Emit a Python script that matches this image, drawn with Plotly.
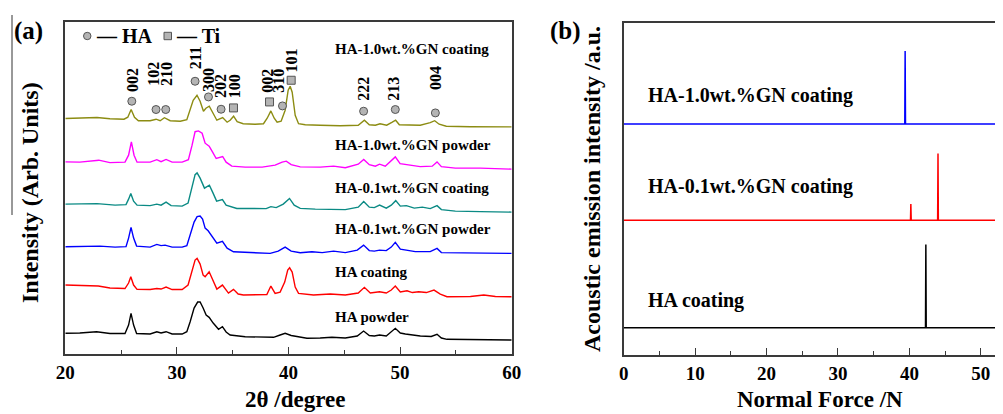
import plotly.graph_objects as go

# The page body adds an 8 px margin, so the figure is 8 px smaller on each axis
OFF = 8
W, H = 1003 - OFF, 414 - OFF
FONT = "Liberation Serif, Times New Roman, serif"

# ---------------- Panel (a): XRD patterns ----------------
theta_olive = [20.0, 21.77, 22.84, 24.0, 25.26, 25.6, 25.9, 26.2, 26.55, 27.6, 28.13, 28.5, 28.88, 29.4, 30.3, 30.89,
               31.2, 31.46, 31.8, 32.08, 32.38, 32.6, 32.9, 33.16, 33.58, 34.1, 34.5, 34.77, 35.08, 35.4, 35.94, 37.0,
               37.76, 38.09, 38.42, 38.72, 38.98, 39.34, 39.7, 39.97, 40.15, 40.33, 40.6, 40.9, 41.5, 42.84, 44.64,
               46.25, 46.8, 47.24, 47.78, 48.2, 48.8, 49.3, 49.6, 49.93, 50.9, 51.8, 52.7, 53.1, 53.5, 54.14, 56.3,
               58.1, 60.0]
int_olive = [235.7, 236.5, 236.7, 235.5, 235, 237, 244.7, 237, 233.5, 233.5, 235, 233.5, 236.5, 233.5, 233, 234.5,
             244, 254, 259, 253, 243, 246, 248, 242, 234, 236.7, 232, 234, 238, 232.5, 230.5, 230,
             230.5, 236, 243.3, 236, 232, 233, 244, 264, 268, 262, 239, 230.5, 229.5, 229, 228.5,
             229, 234, 229.5, 229, 230.5, 229, 232, 234, 229.5, 229, 229, 231.5, 233.5, 230, 228, 227.5,
             227.5, 227.3]

theta_magenta = [20.0, 21.3, 23.0, 24.0, 25.35, 25.67, 25.92, 26.16, 26.43, 27.6, 28.2, 28.58, 29.03, 29.57, 30.47,
                 31.03, 31.36, 31.63, 31.93, 32.26, 32.53, 32.89, 33.2, 33.52, 34.1, 34.41, 34.92, 36.12, 37.64,
                 38.8, 39.43, 39.8, 40.24, 41.05, 42.84, 44.04, 45.09, 46.25, 46.74, 47.24, 47.78, 48.16, 48.67,
                 49.21, 49.57, 50.0, 50.9, 51.8, 52.88, 53.31, 53.7, 54.95, 57.2, 60.0]
int_magenta = [192.3, 192, 194, 191.5, 192, 199, 212.3, 199, 192, 192, 194.5, 192.5, 194.7, 192, 192,
               194.5, 209, 222.5, 223.3, 221, 211, 208, 202, 195.7, 197.7, 192, 188, 187, 187,
               189, 192, 193, 189.5, 187.3, 187, 188, 186.5, 190, 194.7, 189.5, 188, 190, 188,
               193, 197.3, 190.5, 189, 187.5, 188, 192.3, 187.5, 186, 186, 185]

theta_teal = [20.0, 21.3, 22.84, 24.46, 25.44, 25.67, 25.87, 26.12, 26.43, 27.6, 28.2, 28.58, 29.03, 29.48, 30.47,
              31.0, 31.36, 31.63, 31.81, 32.08, 32.47, 32.67, 32.91, 33.2, 33.56, 34.08, 34.41, 35.37, 37.01,
              38.0, 38.42, 38.9, 39.53, 40.09, 40.51, 41.05, 42.4, 43.74, 45.09, 46.25, 46.74, 47.24, 47.69,
              48.16, 48.76, 49.21, 49.61, 50.02, 50.56, 51.27, 51.99, 52.7, 53.31, 53.7, 54.95, 57.2, 60.0]
int_teal = [150, 150, 150.5, 149, 149.5, 155, 160.7, 153, 149, 148.5, 150, 149, 152, 148.5, 148,
            151, 166, 179.5, 181.3, 176, 166, 167, 169, 162, 153, 154.5, 149, 145.7, 145.7,
            145.5, 147.5, 146.5, 150, 155.7, 149, 145.7, 145, 145, 144.5, 147, 152.7, 147, 146.5,
            149, 146, 149, 153.5, 148, 148.5, 146, 147, 145.5, 148.5, 144.5, 143, 142.5, 142]

theta_blue = [20.0, 21.3, 23.1, 24.46, 25.44, 25.67, 25.89, 26.12, 26.39, 27.6, 28.2, 28.58, 28.94, 29.57, 30.47,
              30.89, 31.18, 31.54, 31.81, 32.08, 32.3, 32.53, 32.8, 33.16, 33.58, 34.08, 34.5, 35.07, 36.56,
              38.36, 39.08, 39.7, 40.24, 41.05, 42.1, 43.02, 44.04, 45.09, 46.16, 46.73, 47.24, 47.69, 48.16,
              48.76, 49.21, 49.57, 50.02, 50.47, 51.36, 52.7, 53.31, 53.7, 55.4, 57.65, 60.0]
int_blue = [107.3, 107.5, 108, 107, 107.5, 116, 126.7, 116, 108, 107, 109.7, 108.5, 109, 107, 107,
            108.5, 118, 132, 137.5, 138, 135, 126, 123.3, 118, 111, 112.7, 106, 102.3, 101.5,
            100.7, 103, 107, 103, 101.3, 102.3, 101.5, 103, 101.5, 104, 109, 103.5, 103, 104,
            103.5, 107, 111.7, 105, 104, 102.5, 102.5, 105.7, 101.5, 101, 101, 100.7]

theta_red = [20.0, 21.3, 22.96, 24.0, 25.35, 25.67, 25.87, 26.12, 26.43, 27.6, 28.2, 28.58, 29.03, 29.57, 30.47,
             31.0, 31.36, 31.63, 31.81, 32.08, 32.35, 32.53, 32.89, 33.2, 33.58, 34.08, 34.62, 35.07, 35.49,
             35.96, 37.01, 38.06, 38.42, 38.8, 39.25, 39.66, 39.93, 40.1, 40.33, 40.6, 40.9, 42.24, 43.74,
             45.09, 46.25, 46.8, 47.33, 48.16, 48.76, 49.21, 49.57, 50.02, 50.62, 51.1, 51.67, 52.35, 53.04,
             53.6, 54.2, 56.3, 57.5, 58.54, 60.0]
int_red = [69, 68.5, 68, 66, 65.5, 71, 77.3, 69, 64.7, 64.5, 65.5, 65, 67, 64.5, 64.5,
           69, 84, 94, 95.7, 90, 79, 77.3, 82.3, 74, 65, 69, 61, 64.7, 60,
           59, 59, 59.5, 68, 60.7, 62, 72, 84, 86.3, 82, 67, 60.7, 59, 60,
           59, 61, 66.7, 61, 62.3, 61, 64, 68, 62, 63.3, 61.5, 62.3, 61.5, 64,
           60, 57.3, 57.5, 59, 57.5, 57.3]

theta_black = [20.0, 21.3, 22.8, 24.0, 25.35, 25.67, 25.89, 26.12, 26.39, 27.6, 28.2, 28.58, 29.03, 29.57, 30.47,
               30.89, 31.18, 31.54, 31.86, 32.08, 32.35, 32.62, 32.89, 33.25, 33.73, 34.08, 34.41, 34.77, 36.12,
               37.46, 38.66, 39.25, 39.7, 40.24, 41.65, 42.84, 43.89, 45.09, 46.16, 46.73, 47.24, 47.69, 48.16,
               48.76, 49.21, 49.57, 50.02, 50.47, 51.81, 52.79, 53.31, 53.7, 54.2, 56.3, 58.1, 60.0]
int_black = [20.7, 21, 22.3, 20.5, 20.5, 29, 40.7, 29, 20.5, 20, 22.3, 21, 22.3, 20, 20,
             22.3, 32, 46, 52, 52, 46, 39, 36.7, 31, 24.7, 27.3, 22, 19, 17.3,
             17, 16.7, 19, 20.7, 18.5, 15.7, 16, 16.7, 16, 18, 23, 18.5, 18, 19,
             18, 22, 25.7, 21, 20, 18, 17.5, 19.7, 16, 14.7, 14.5, 14.5, 14]

xrd_series = [
    ("HA-1.0wt.%GN coating", theta_olive, int_olive, "#8c8c12"),
    ("HA-1.0wt.%GN powder", theta_magenta, int_magenta, "#ff00ff"),
    ("HA-0.1wt.%GN coating", theta_teal, int_teal, "#0a8a84"),
    ("HA-0.1wt.%GN powder", theta_blue, int_blue, "#0000ff"),
    ("HA coating", theta_red, int_red, "#ff0000"),
    ("HA powder", theta_black, int_black, "#000000"),
]
# label positions (y of label centre, in pattern intensity units)
xrd_label_y = [305, 209, 166, 125, 82, 37]

# peak indexing
ha_peak_theta = [25.96, 28.13, 29.0, 31.63, 32.83, 33.96, 39.46, 46.73, 49.57, 53.16]
ha_marker_y = [253, 244.7, 244.7, 273, 257.3, 245, 248.3, 243, 244.7, 241.3]
ti_peak_theta = [35.07, 38.3, 40.24]
ti_marker_y = [246.3, 252.3, 274]

hkl_text = ["002", "102", "210", "211", "300", "202", "100", "002", "310", "101", "222", "213", "004"]
hkl_theta = [25.96, 27.95, 29.05, 31.63, 32.85, 33.92, 35.12, 38.12, 39.1, 40.3, 46.73, 49.42, 53.16]
hkl_y = [274, 280.5, 280.5, 296, 274, 268, 268, 273, 274, 293.5, 265, 265, 276.5]

# ---------------- Panel (b): acoustic emission ----------------
force_blue = [0, 39.35, 39.4, 39.45, 53.1]
ae_blue = [69.6, 69.6, 91.6, 69.6, 69.6]
force_red = [0, 40.15, 40.2, 40.25, 43.95, 44.0, 44.05, 53.1]
ae_red = [40.6, 40.6, 45.5, 40.6, 40.6, 60.7, 40.6, 40.6]
force_black = [0, 42.25, 42.3, 42.35, 53.1]
ae_black = [8.2, 8.2, 33.3, 8.2, 8.2]
ae_series = [
    ("HA-1.0wt.%GN coating", force_blue, ae_blue, "#0000ff", 95),
    ("HA-0.1wt.%GN coating", force_red, ae_red, "#ff0000", 186),
    ("HA coating", force_black, ae_black, "#000000", 300),
]


def px(x):
    """screen x pixel -> paper fraction"""
    return (x - OFF) / W


def py(y):
    """screen y pixel -> paper fraction"""
    return 1 - (y - OFF) / H


fig = go.Figure()

for name, tx, iy, col in xrd_series:
    fig.add_trace(go.Scatter(x=tx, y=iy, mode="lines", line=dict(color=col, width=1.4),
                             name=name, xaxis="x", yaxis="y", showlegend=False))

fig.add_trace(go.Scatter(x=ha_peak_theta, y=ha_marker_y, mode="markers", xaxis="x", yaxis="y",
                         marker=dict(symbol="circle", size=8, color="#b4b4b4", line=dict(color="#555", width=1)),
                         showlegend=False))
fig.add_trace(go.Scatter(x=ti_peak_theta, y=ti_marker_y, mode="markers", xaxis="x", yaxis="y",
                         marker=dict(symbol="square", size=8, color="#b4b4b4", line=dict(color="#555", width=1)),
                         showlegend=False))

for name, fx, ay, col, ly in ae_series:
    fig.add_trace(go.Scatter(x=fx, y=ay, mode="lines", line=dict(color=col, width=1.5),
                             xaxis="x2", yaxis="y2", showlegend=False))

annotations = []
bold = dict(family=FONT, color="black", weight="bold")

# hkl labels
for t, xv, yv in zip(hkl_text, hkl_theta, hkl_y):
    annotations.append(dict(x=xv, y=yv, xref="x", yref="y", text=t, textangle=-90, showarrow=False,
                            font=dict(bold, size=16), xanchor="center", yanchor="middle"))

# curve labels (a)
for (name, tx, iy, col), ly in zip(xrd_series, xrd_label_y):
    annotations.append(dict(x=px(333), y=ly, xref="paper", yref="y", text=name, showarrow=False,
                            font=dict(bold, size=15), xanchor="left", yanchor="middle"))

# curve labels (b)
for name, fx, ay, col, ly in ae_series:
    annotations.append(dict(x=px(646), y=py(ly), xref="paper", yref="paper", text=name, showarrow=False,
                            font=dict(bold, size=20), xanchor="left", yanchor="middle"))

# legend of phases (a)
annotations.append(dict(x=px(94), y=py(36), xref="paper", yref="paper", text="— HA", showarrow=False,
                        font=dict(bold, size=20), xanchor="left", yanchor="middle"))
annotations.append(dict(x=px(174), y=py(36), xref="paper", yref="paper", text="— Ti", showarrow=False,
                        font=dict(bold, size=20), xanchor="left", yanchor="middle"))

# panel letters
annotations.append(dict(x=px(28), y=py(31), xref="paper", yref="paper", text="(a)", showarrow=False,
                        font=dict(bold, size=25), xanchor="center", yanchor="middle"))
annotations.append(dict(x=px(565), y=py(31), xref="paper", yref="paper", text="(b)", showarrow=False,
                        font=dict(bold, size=25), xanchor="center", yanchor="middle"))

# axis titles
annotations.append(dict(x=px(295), y=py(399.5), xref="paper", yref="paper", text="2θ /degree", showarrow=False,
                        font=dict(bold, size=23), xanchor="center", yanchor="middle"))
annotations.append(dict(x=px(30), y=py(193), xref="paper", yref="paper", text="Intensity (Arb. Units)",
                        textangle=-90, showarrow=False, font=dict(bold, size=24), xanchor="center", yanchor="middle"))
annotations.append(dict(x=px(820), y=py(399.5), xref="paper", yref="paper", text="Normal Force /N", showarrow=False,
                        font=dict(bold, size=23), xanchor="center", yanchor="middle"))
annotations.append(dict(x=px(592), y=py(189), xref="paper", yref="paper", text="Acoustic emission intensity /a.u.",
                        textangle=-90, showarrow=False, font=dict(bold, size=24), xanchor="center", yanchor="middle"))

# legend symbols for phases (layout markers)
shapes = [
    dict(type="circle", xref="paper", yref="paper", x0=px(83.5), x1=px(91), y0=py(39.7), y1=py(32.3),
         fillcolor="#b4b4b4", line=dict(color="#555", width=1)),
    dict(type="rect", xref="paper", yref="paper", x0=px(164), x1=px(171.5), y0=py(39.7), y1=py(32.3),
         fillcolor="#b4b4b4", line=dict(color="#555", width=1)),
    dict(type="line", xref="paper", yref="paper", x0=px(12), x1=px(12), y0=py(15), y1=py(215),
         line=dict(color="#333", width=1)),
]

axis_common = dict(showgrid=False, zeroline=False, showline=True, linecolor="#3a3a3a", linewidth=1.6,
                   automargin=False)

fig.update_layout(
    template="none",
    width=W, height=H,
    autosize=False,
    margin=dict(l=0, r=0, t=0, b=0, pad=0, autoexpand=False),
    paper_bgcolor="white", plot_bgcolor="white",
    showlegend=False,
    xaxis=dict(axis_common, domain=[px(65.3), px(511.7)], range=[20, 60], anchor="y", mirror=True,
               tickvals=[20, 30, 40, 50, 60], ticks="inside", ticklen=7, tickwidth=1.3, tickcolor="#3a3a3a",
               minor=dict(ticks="inside", dtick=5, tick0=20, ticklen=4, tickwidth=1.3, tickcolor="#3a3a3a"),
               tickfont=dict(bold, size=19)),
    yaxis=dict(axis_common, domain=[py(354), py(22.3)], range=[0, 332], anchor="x", mirror=True,
               showticklabels=False, ticks=""),
    xaxis2=dict(axis_common, domain=[px(623.7), 1.0], range=[0, 53.1], anchor="y2", mirror=True,
                tickvals=[0, 10, 20, 30, 40, 50], ticks="inside", ticklen=7, tickwidth=1.3, tickcolor="#3a3a3a",
                minor=dict(ticks="inside", dtick=5, tick0=0, ticklen=4, tickwidth=1.3, tickcolor="#3a3a3a"),
                tickfont=dict(bold, size=19)),
    yaxis2=dict(axis_common, domain=[py(355), py(23)], range=[0, 100], anchor="x2", mirror=False,
                showticklabels=False, ticks=""),
    annotations=annotations,
    shapes=shapes,
)

fig.write_html("out.html")
